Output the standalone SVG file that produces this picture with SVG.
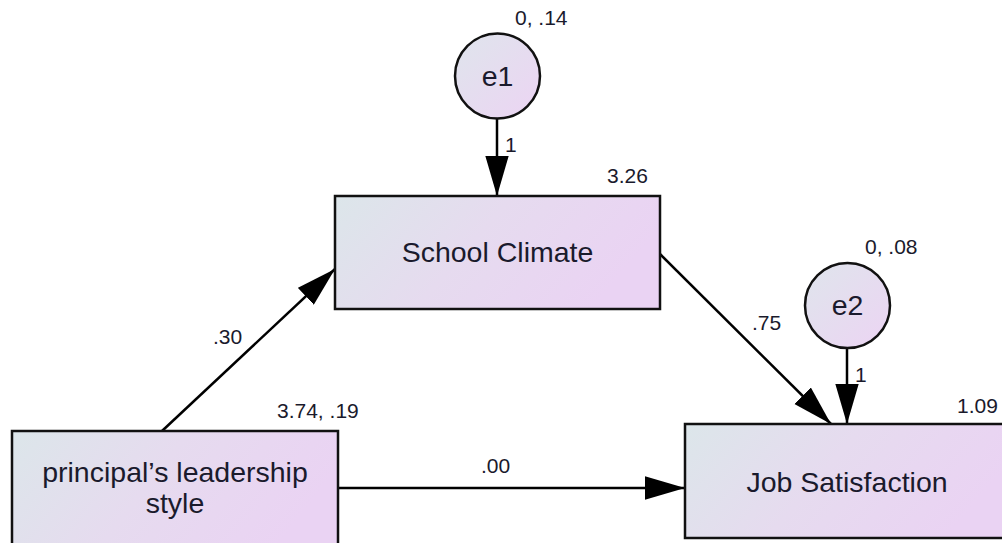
<svg xmlns="http://www.w3.org/2000/svg" width="1002" height="543" viewBox="0 0 1002 543">
<defs>
<linearGradient id="g" x1="0" y1="0" x2="1" y2="0.3">
<stop offset="0" stop-color="#dce6ea"/>
<stop offset="0.5" stop-color="#e6dbef"/>
<stop offset="1" stop-color="#ead3f3"/>
</linearGradient>
<linearGradient id="gc" x1="0" y1="0" x2="1" y2="1">
<stop offset="0" stop-color="#dfe5ec"/>
<stop offset="1" stop-color="#ecd4f3"/>
</linearGradient>
<marker id="ah" markerUnits="userSpaceOnUse" markerWidth="40" markerHeight="24" refX="36" refY="10.5" orient="auto" viewBox="0 0 36 21">
<path d="M0,0 L36,10.5 L0,21 Z" fill="#000"/>
</marker>
<style>
.box{fill:url(#g);stroke:#111;stroke-width:2.5}
.circ{fill:url(#gc);stroke:#111;stroke-width:2.5}
.lbl{font-family:"Liberation Sans",Arial,sans-serif;font-size:28.5px;fill:#1a1a2c;text-anchor:middle}
.num{font-family:"Liberation Sans",Arial,sans-serif;font-size:21px;fill:#1a1a2c}
.edge{stroke:#000;stroke-width:2.5;fill:none;marker-end:url(#ah)}
</style>
</defs>
<rect width="1002" height="543" fill="#fff"/>
<g id="connectors">
<line class="edge" x1="497" y1="119" x2="497" y2="196"/>
<line class="edge" x1="847" y1="348" x2="847" y2="424"/>
<line class="edge" x1="660" y1="254" x2="831" y2="424"/>
<line class="edge" x1="162" y1="431" x2="335" y2="269"/>
<line class="edge" x1="338" y1="488" x2="685" y2="488"/>
<text class="num" x="505" y="152">1</text>
<text class="num" x="855" y="382">1</text>
<text class="num" x="213" y="344">.30</text>
<text class="num" x="752" y="330">.75</text>
<text class="num" x="481" y="473">.00</text>
</g>
<g id="e1">
<circle class="circ" cx="497.5" cy="76" r="42.5"/>
<text class="lbl" x="497.5" y="86">e1</text>
<text class="num" x="515" y="25">0, .14</text>
</g>
<g id="e2">
<circle class="circ" cx="847.5" cy="305.5" r="42.5"/>
<text class="lbl" x="847.5" y="315">e2</text>
<text class="num" x="865" y="254">0, .08</text>
</g>
<g id="school-climate">
<rect class="box" x="335" y="196" width="325" height="113"/>
<text class="lbl" x="497.5" y="262">School Climate</text>
<text class="num" x="607" y="183">3.26</text>
</g>
<g id="leadership">
<rect class="box" x="12" y="431" width="326" height="125"/>
<text class="lbl" x="175" y="482">principal’s leadership</text>
<text class="lbl" x="175" y="513">style</text>
<text class="num" x="277" y="418">3.74, .19</text>
</g>
<g id="job-satisfaction">
<rect class="box" x="685" y="424" width="330" height="114"/>
<text class="lbl" x="847" y="492">Job Satisfaction</text>
<text class="num" x="957" y="413">1.09</text>
</g>
</svg>
